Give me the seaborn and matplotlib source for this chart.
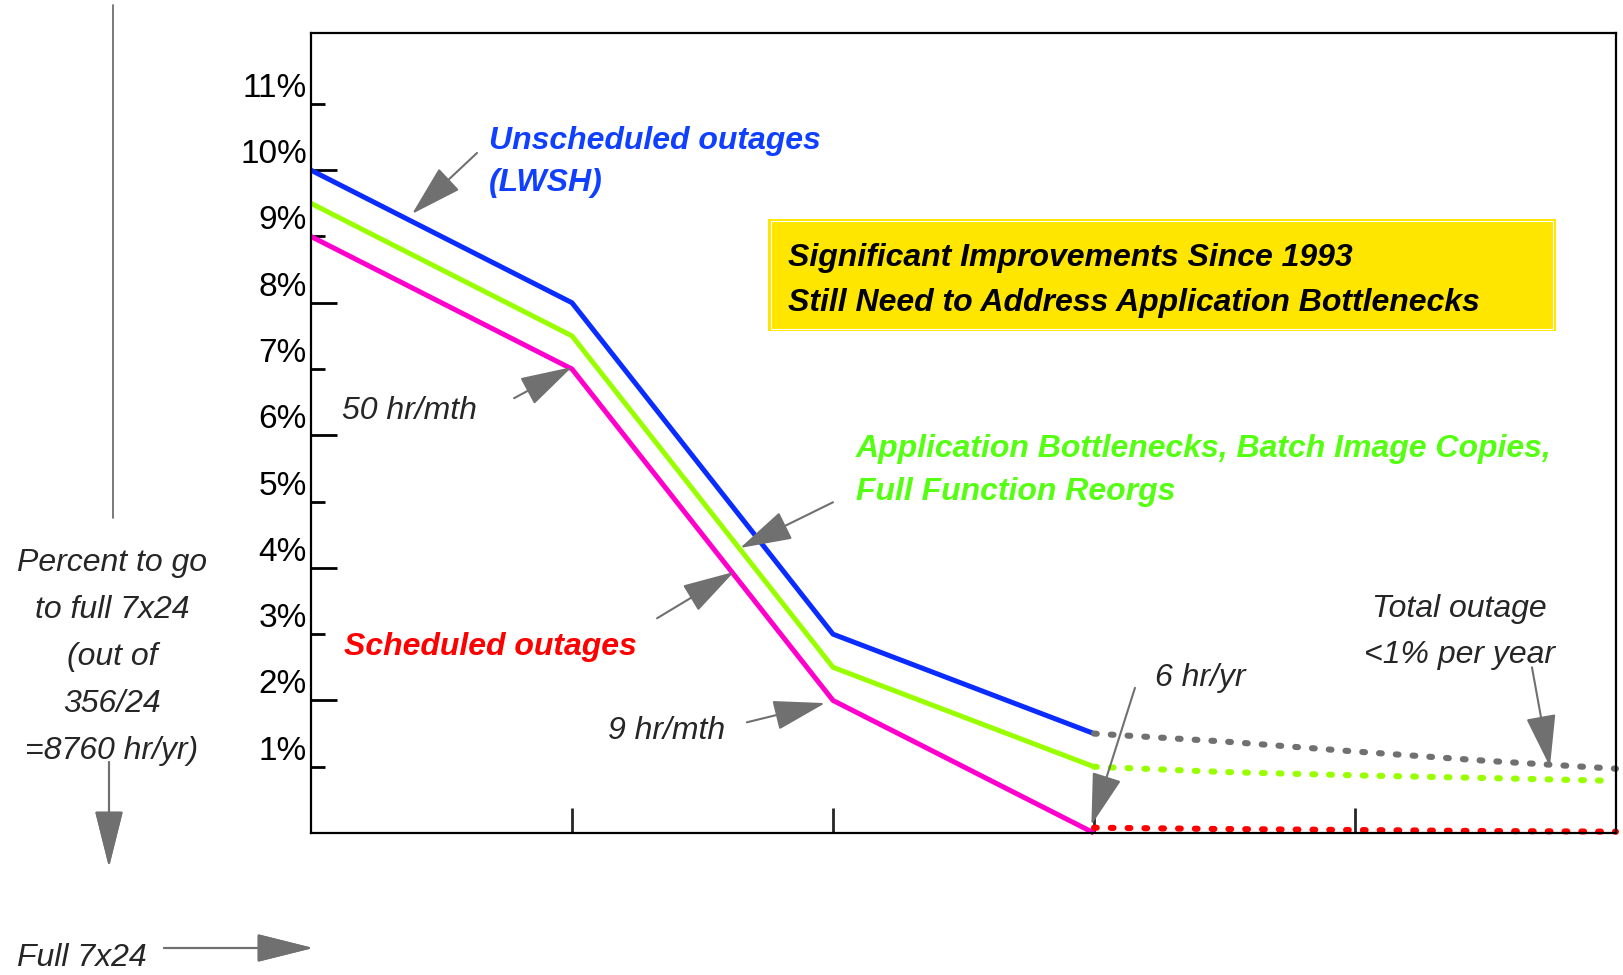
import pandas as pd
import matplotlib
matplotlib.use("Agg")
import matplotlib.pyplot as plt
from matplotlib.patches import Rectangle
from matplotlib.lines import Line2D
import seaborn as sns

# measured stages (x axis has no labels in the original)
stage = [0, 1, 2, 3]
unscheduled = [10.0, 8.0, 3.0, 1.5]   # blue
app_bottle = [9.5, 7.5, 2.5, 1.0]     # green
scheduled = [9.0, 7.0, 2.0, 0.0]      # magenta

# projected part, drawn dotted
proj_stage = [3, 3.5, 4, 4.5, 5]
proj_total = [1.5, 1.38, 1.23, 1.09, 0.97]
proj_green_stage = [3, 3.5, 4, 4.5, 4.96]
proj_green = [1.0, 0.92, 0.87, 0.83, 0.79]
proj_sched = [0.08, 0.06, 0.045, 0.03, 0.02]

ytick_vals = list(range(1, 12))
ytick_labels = [f"{v}%" for v in ytick_vals]

BLUE = '#0a2cff'
GREEN = '#99ff00'
MAGENTA = '#ff00cc'
RED = '#ff0000'
GREY = '#707070'

sns.set_style("ticks")
plt.rcParams['font.family'] = ['Liberation Sans', 'DejaVu Sans']
plt.rcParams['font.size'] = 23

fig = plt.figure(figsize=(16.24, 9.75), dpi=100)
ax = fig.add_axes([311 / 1624, 1 - 833 / 975, 1305 / 1624, 800 / 975])

df = pd.DataFrame({
    'stage': stage * 3,
    'pct': unscheduled + app_bottle + scheduled,
    'series': ['unsched'] * 4 + ['app'] * 4 + ['sched'] * 4,
})
sns.lineplot(data=df, x='stage', y='pct', hue='series',
             palette={'unsched': BLUE, 'app': GREEN, 'sched': MAGENTA},
             linewidth=3.6, legend=False, errorbar=None, sort=False,
             ax=ax, clip_on=False, solid_capstyle='butt')

dot = (0, (0.45, 2.3))
for xs, ys, col in [(proj_stage, proj_total, GREY),
                    (proj_green_stage, proj_green, GREEN),
                    (proj_stage, proj_sched, RED)]:
    sns.lineplot(x=xs, y=ys, color=col, linewidth=4.4, ls=dot,
                 dash_capstyle='round', errorbar=None, ax=ax, clip_on=False)

ax.set_xlim(0, 5)
ax.set_ylim(0, 12.07)
ax.set_xticks([1, 2, 3, 4])
ax.set_xticklabels([])
ax.set_yticks(ytick_vals[1::2], labels=ytick_labels[1::2])
ax.set_yticks(ytick_vals[0::2], labels=ytick_labels[0::2], minor=True)
ax.set_xlabel('')
ax.set_ylabel('')
ax.tick_params(axis='y', which='major', direction='in', length=19, width=2, pad=3,
               labelsize=24, colors='black')
ax.tick_params(axis='y', which='minor', direction='in', length=10, width=2, pad=3,
               labelsize=24, colors='black')
ax.tick_params(axis='x', direction='in', length=18, width=2)
plt.setp(ax.get_yticklabels(), va='bottom')
plt.setp(ax.get_yticklabels(minor=True), va='bottom')
for sp in ax.spines.values():
    sp.set_linewidth(1.6)
    sp.set_color('black')

# yellow message box
ax.add_patch(Rectangle((1.751, 7.57), 3.019, 1.69, facecolor='#ffe600',
                       edgecolor='none', zorder=1))
ax.add_patch(Rectangle((1.762, 7.60), 2.997, 1.63, facecolor='none',
                       edgecolor='white', lw=0.8, zorder=1))
ax.text(1.828, 8.34, "Significant Improvements Since 1993\nStill Need to Address Application Bottlenecks",
        fontweight='bold', style='italic', color='black', va='center', ha='left',
        linespacing=1.67, zorder=2)

# series labels
ax.text(0.682, 10.12, "Unscheduled outages\n(LWSH)", color='#1040ff',
        fontweight='bold', style='italic', va='center', ha='left', linespacing=1.5)
ax.text(2.088, 5.47, "Application Bottlenecks, Batch Image Copies,\nFull Function Reorgs",
        color='#55ff11', fontweight='bold', style='italic', va='center', ha='left',
        linespacing=1.54)
ax.text(0.126, 2.80, "Scheduled outages", color=RED, fontweight='bold', style='italic',
        va='center', ha='left')
ax.text(0.119, 6.37, "50 hr/mth", style='italic', va='center', ha='left')
ax.text(1.138, 1.54, "9 hr/mth", style='italic', va='center', ha='left')
ax.text(3.234, 2.34, "6 hr/yr", style='italic', va='center', ha='left')
ax.text(4.40, 3.03, "Total outage\n<1% per year", style='italic', va='center',
        ha='center', linespacing=1.72)

arrow_kw = dict(arrowstyle="-|>,head_length=33,head_width=9.5", color=GREY, lw=1.5,
                shrinkA=0, shrinkB=0, mutation_scale=1)
pointers = [
    ((0.387, 9.34), (0.636, 10.26)),   # unscheduled
    ((1.0, 7.03), (0.778, 6.56)),      # 50 hr/mth
    ((1.644, 4.30), (2.0, 4.99)),      # application bottlenecks
    ((1.621, 3.94), (1.326, 3.24)),    # scheduled
    ((1.97, 1.96), (1.67, 1.67)),      # 9 hr/mth
    ((2.99, 0.12), (3.157, 2.19)),     # 6 hr/yr
    ((4.747, 1.0), (4.678, 2.50)),     # total outage
]
for tip, tail in pointers:
    ax.annotate('', xy=tip, xytext=tail, arrowprops=arrow_kw, annotation_clip=False)

# left-hand explanation outside the axes
fig.text(112 / 1624, 1 - 657 / 975,
         "Percent to go\nto full 7x24\n(out of\n356/24\n=8760 hr/yr)",
         style='italic', ha='center', va='center', multialignment='center',
         linespacing=1.75)
fig.add_artist(Line2D([113 / 1624, 113 / 1624], [1 - 5 / 975, 1 - 518 / 975],
                      color=GREY, lw=1.3, transform=fig.transFigure))
fig_arrow = dict(arrowstyle="-|>,head_length=36,head_width=9", color=GREY, lw=1.5,
                 shrinkA=0, shrinkB=0, mutation_scale=1)
fig.add_artist(plt.annotate('', xy=(109, 975 - 867), xytext=(109, 975 - 762),
                            xycoords='figure pixels', arrowprops=fig_arrow))
fig.text(17 / 1624, 17 / 975, "Full 7x24", style='italic', ha='left', va='center')
fig.add_artist(plt.annotate('', xy=(313, 27), xytext=(164, 27),
                            xycoords='figure pixels', arrowprops=fig_arrow))

fig.savefig("out.png", dpi=100)
